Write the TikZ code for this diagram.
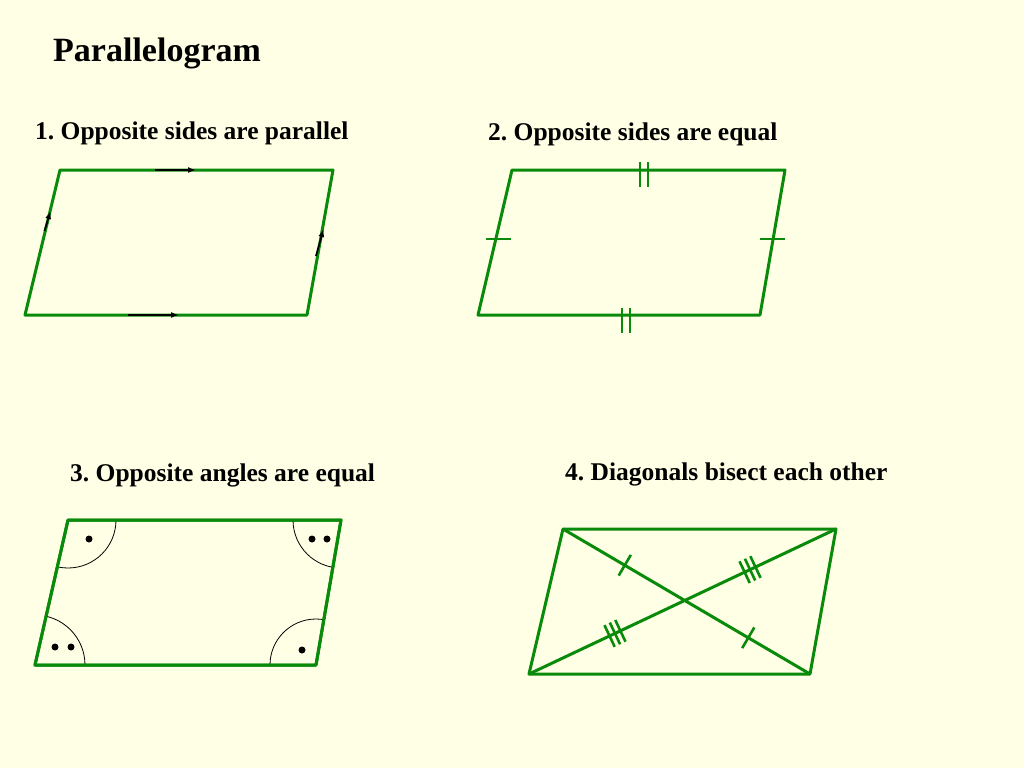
\documentclass[tikz,border=0pt]{standalone}
\usepackage{fontspec}
\setmainfont{Liberation Serif}
\usetikzlibrary{calc,arrows.meta}
\definecolor{bg}{HTML}{FFFFE6}
\definecolor{gr}{HTML}{0A8A0A}
\begin{document}
\frenchspacing
\begin{tikzpicture}[x=1pt,y=-1pt,
 side/.style={gr,line width=3pt,line join=round},
 tick/.style={gr,line width=2.6pt},
 arr/.style={black,line width=1.8pt,-{Latex[length=8pt,width=6pt]}},
 arc/.style={black,line width=0.8pt},
 lbl/.style={anchor=west,font=\bfseries\fontsize{25.5}{28}\selectfont,inner sep=0},
 dot/.style={circle,fill=black,inner sep=0,minimum size=7pt}]
\fill[bg] (0,0) rectangle (1024,768);
\useasboundingbox (0,0) rectangle (1024,768);
\node[lbl,font=\bfseries\fontsize{34}{38}\selectfont] (t) at (53,53) {Parallelogram};
\node[lbl] (l1) at (35,133) {1. Opposite sides are parallel};
\node[lbl] (l2) at (488,134) {2. Opposite sides are equal};
\node[lbl] (l3) at (70,475) {3. Opposite angles are equal};
\node[lbl] (l4) at (565,474) {4. Diagonals bisect each other};
% fig1
\coordinate (a1) at (60,170); \coordinate (b1) at (333,170);
\coordinate (c1) at (307,315); \coordinate (d1) at (25,315);
\draw[side] (a1)--(b1)--(c1)--(d1)--cycle;
\draw[arr] (155,170)--(196,170);
\draw[arr] (128,315)--(179,315);
\draw[arr] (44.5,231)--(50.5,211);
\draw[arr] (316,256)--(323.5,229);
% fig2
\coordinate (a2) at (512,170); \coordinate (b2) at (785,170);
\coordinate (c2) at (760,315); \coordinate (d2) at (478,315);
\draw[side] (a2)--(b2)--(c2)--(d2)--cycle;
\draw[tick] (640,162)--(640,187) (648,162)--(648,187);
\draw[tick] (622,308)--(622,333) (630,308)--(630,333);
\draw[tick] (486,239)--(511,239);
\draw[tick] (760,239)--(785,239);
% fig3
\coordinate (a3) at (68,520); \coordinate (b3) at (341,520);
\coordinate (c3) at (316,665); \coordinate (d3) at (35,665);
\draw[side] (a3)--(b3)--(c3)--(d3)--cycle;
\begin{scope}
\clip (a3)--(b3)--(c3)--(d3)--cycle;
\draw[arc] (a3) circle (48);
\draw[arc] (b3) circle (48);
\draw[arc] (c3) circle (46);
\draw[arc] (d3) circle (50);
\end{scope}
\draw[side] (a3)--(b3)--(c3)--(d3)--cycle;
\node[dot] (p1) at (89,539) {};
\node[dot] (p2) at (312,539) {};
\node[dot] (p3) at (327,539) {};
\node[dot] (p4) at (55,647) {};
\node[dot] (p5) at (71,647) {};
\node[dot] (p6) at (302,650) {};
% fig4
\coordinate (a4) at (563,529); \coordinate (b4) at (836,529);
\coordinate (c4) at (810,674); \coordinate (d4) at (529,674);
\draw[side] (a4)--(b4)--(c4)--(d4)--cycle;
\draw[side] (a4)--(c4) (b4)--(d4);
\foreach \t in {0.25,0.75}{
 \draw[tick] ($(a4)!\t!(c4)!12pt!90:(c4)$)--($(a4)!\t!(c4)!12pt!-90:(c4)$);}
\foreach \t in {0.28,0.72}{
 \foreach \s in {-6,0,6}{
 \coordinate (m) at ($(b4)!\t+\s/340!(d4)$);
 \draw[tick] ($(m)!12pt!90:(b4)$)--($(m)!12pt!-90:(b4)$);}}
\end{tikzpicture}
\end{document}
